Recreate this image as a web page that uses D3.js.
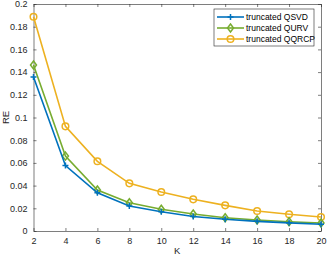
<!DOCTYPE html>
<html>
<head>
<meta charset="utf-8">
<script src="https://cdn.jsdelivr.net/npm/d3@7"></script>
<style>
  html, body { margin: 0; padding: 0; background: #fff; }
  svg { display: block; font-family: "Liberation Sans", Arial, sans-serif; }
</style>
</head>
<body>
<div id="chart"></div>
<script>
// K values on the x axis
const kValues = [2, 4, 6, 8, 10, 12, 14, 16, 18, 20];
// relative error per method
const qsvd  = [0.1357, 0.0576, 0.0337, 0.0220, 0.0170, 0.0128, 0.0103, 0.0085, 0.0072, 0.0060];
const qurv  = [0.1463, 0.0660, 0.0361, 0.0249, 0.0191, 0.0150, 0.0117, 0.0097, 0.0082, 0.0070];
const qqrcp = [0.1888, 0.0922, 0.0614, 0.0420, 0.0344, 0.0279, 0.0226, 0.0176, 0.0147, 0.0123];
const seriesNames = ["truncated QSVD", "truncated QURV", "truncated QQRCP"];
const xTicks = [2, 4, 6, 8, 10, 12, 14, 16, 18, 20];
const yTicks = [0, 0.02, 0.04, 0.06, 0.08, 0.1, 0.12, 0.14, 0.16, 0.18, 0.2];

const COLORS = ["#0072BD", "#77AC30", "#EDB120"];
const MARKERS = ["plus", "diamond", "circle"];

const w = 327, h = 257;
const margin = { top: 4, right: 6, bottom: 26, left: 33.5 };

const svg = d3.select("#chart").append("svg")
  .attr("width", w).attr("height", h);

const x = d3.scaleLinear().domain([2, 20]).range([margin.left, w - margin.right]);
const y = d3.scaleLinear().domain([0, 0.2]).range([h - margin.bottom, margin.top]);

const tickFmt = (d) => d3.format("")(+d.toFixed(2));

// axes with inward ticks, MATLAB-style box
const axisColor = "#262626";
function styleAxis(g) {
  g.select(".domain").attr("stroke", axisColor).attr("stroke-width", 0.6);
  g.selectAll(".tick line").attr("stroke", axisColor).attr("stroke-width", 0.6);
  g.selectAll(".tick text").attr("fill", axisColor).style("font-size", "9px");
}

svg.append("g")
  .attr("transform", `translate(0,${y(0)})`)
  .call(d3.axisBottom(x).tickValues(xTicks).tickSizeInner(-3).tickSizeOuter(0).tickPadding(7).tickFormat(tickFmt))
  .call(styleAxis);
svg.append("g")
  .attr("transform", `translate(0,${y(0.2)})`)
  .call(d3.axisTop(x).tickValues(xTicks).tickSizeInner(-3).tickSizeOuter(0).tickFormat(""))
  .call(styleAxis);
svg.append("g")
  .attr("transform", `translate(${x(2)},0)`)
  .call(d3.axisLeft(y).tickValues(yTicks).tickSizeInner(-3).tickSizeOuter(0).tickPadding(6).tickFormat(tickFmt))
  .call(styleAxis);
svg.append("g")
  .attr("transform", `translate(${x(20)},0)`)
  .call(d3.axisRight(y).tickValues(yTicks).tickSizeInner(-3).tickSizeOuter(0).tickFormat(""))
  .call(styleAxis);

// axis labels
svg.append("text")
  .attr("x", (x(2) + x(20)) / 2).attr("y", h - 3)
  .attr("text-anchor", "middle").style("font-size", "9.5px").attr("fill", axisColor)
  .text("K");
svg.append("text")
  .attr("transform", `translate(9,${(y(0) + y(0.2)) / 2}) rotate(-90)`)
  .attr("text-anchor", "middle").style("font-size", "9.5px").attr("fill", axisColor)
  .text("RE");

function drawMarker(g, kind, cx, cy, color) {
  if (kind === "plus") {
    g.append("path").attr("d", `M${cx - 3},${cy}H${cx + 3}M${cx},${cy - 3}V${cy + 3}`)
      .attr("stroke", color).attr("stroke-width", 1.5).attr("fill", "none");
  } else if (kind === "diamond") {
    g.append("path").attr("d", `M${cx},${cy - 4}L${cx + 3},${cy}L${cx},${cy + 4}L${cx - 3},${cy}Z`)
      .attr("stroke", color).attr("stroke-width", 1.5).attr("fill", "none");
  } else {
    g.append("circle").attr("cx", cx).attr("cy", cy).attr("r", 3.3)
      .attr("stroke", color).attr("stroke-width", 1.5).attr("fill", "none");
  }
}

const allSeries = [qsvd, qurv, qqrcp];
const line = d3.line().x((d) => x(d[0])).y((d) => y(d[1]));

// draw yellow first, then green, then blue on top
[2, 1, 0].forEach((i) => {
  const pts = kValues.map((k, j) => [k, allSeries[i][j]]);
  const g = svg.append("g");
  g.append("path").datum(pts).attr("d", line)
    .attr("fill", "none").attr("stroke", COLORS[i]).attr("stroke-width", 1.6);
  pts.forEach((p) => drawMarker(g, MARKERS[i], x(p[0]), y(p[1]), COLORS[i]));
});

// legend
const lg = svg.append("g");
lg.append("rect").attr("x", 214).attr("y", 9).attr("width", 100).attr("height", 37)
  .attr("fill", "#fff").attr("stroke", axisColor).attr("stroke-width", 0.6);
seriesNames.forEach((name, i) => {
  const ly = 17 + i * 11;
  lg.append("line").attr("x1", 217).attr("x2", 244).attr("y1", ly).attr("y2", ly)
    .attr("stroke", COLORS[i]).attr("stroke-width", 1.6);
  drawMarker(lg, MARKERS[i], 230.5, ly, COLORS[i]);
  lg.append("text").attr("x", 246).attr("y", ly + 3)
    .style("font-size", "8.5px").attr("fill", "#000").text(name);
});
</script>
</body>
</html>
